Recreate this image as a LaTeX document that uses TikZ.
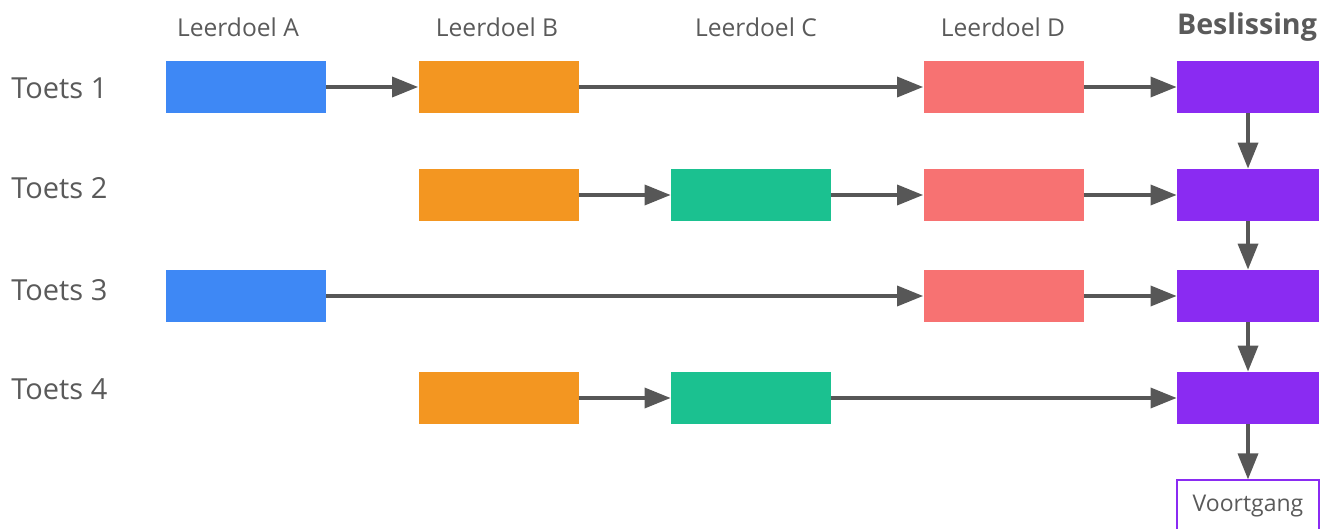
\documentclass[tikz,border=0pt]{standalone}
\usepackage{fontspec}
\setmainfont{Open Sans}
\usetikzlibrary{arrows.meta}
\definecolor{txt}{HTML}{5A5A5A}
\definecolor{arr}{HTML}{575757}
\definecolor{cblue}{HTML}{3E88F5}
\definecolor{corange}{HTML}{F39621}
\definecolor{cgreen}{HTML}{1BC190}
\definecolor{cred}{HTML}{F77272}
\definecolor{cpurple}{HTML}{8A2BF2}
\tikzset{
  box/.style={draw=none, minimum width=80pt, minimum height=26pt, inner sep=0pt},
  dbox/.style={draw=none, fill=cpurple, minimum width=71pt, minimum height=26pt, inner sep=0pt},
  head/.style={text=txt, font=\fontsize{12.3}{14}\selectfont},
  rowlab/.style={text=txt, anchor=west, inner sep=0pt, font=\fontsize{14.5}{16}\selectfont},
  conn/.style={draw=arr, line width=1.75pt, -{Triangle[length=13pt,width=10pt]}},
}
\begin{document}
\begin{tikzpicture}[x=0.5pt, y=-0.5pt]
\useasboundingbox (0,0) rectangle (1328,529);
\clip (0,0) rectangle (1328,529);
% headers
\node[head] (hA) at (238,27) {Leerdoel A};
\node[head] (hB) at (497,27) {Leerdoel B};
\node[head] (hC) at (756,27) {Leerdoel C};
\node[head] (hD) at (1003,27) {Leerdoel D};
\node[head, font=\fontsize{14.3}{16}\selectfont\bfseries] (hE) at (1247,27) {Beslissing};
% row labels
\node[rowlab] (t1) at (11,88) {Toets 1};
\node[rowlab] (t2) at (11,188) {Toets 2};
\node[rowlab] (t3) at (11,290) {Toets 3};
\node[rowlab] (t4) at (11,389) {Toets 4};
% row 1
\node[box, fill=cblue] (a1) at (246,87) {};
\node[box, fill=corange] (b1) at (498.5,87) {};
\node[box, fill=cred] (d1) at (1003.5,87) {};
\node[dbox] (e1) at (1248,87) {};
% row 2
\node[box, fill=corange] (b2) at (498.5,195) {};
\node[box, fill=cgreen] (c2) at (751,195) {};
\node[box, fill=cred] (d2) at (1003.5,195) {};
\node[dbox] (e2) at (1248,195) {};
% row 3
\node[box, fill=cblue] (a3) at (246,296) {};
\node[box, fill=cred] (d3) at (1003.5,296) {};
\node[dbox] (e3) at (1248,296) {};
% row 4
\node[box, fill=corange] (b4) at (498.5,398) {};
\node[box, fill=cgreen] (c4) at (751,398) {};
\node[dbox] (e4) at (1248,398) {};
% voortgang
\node[draw=cpurple, line width=0.6pt, fill=white, minimum width=71pt, minimum height=26pt, inner sep=0pt, text=txt, font=\fontsize{11.5}{13}\selectfont] (v) at (1248,506) {Voortgang};
% connectors
\draw[conn] (a1) -- (b1);
\draw[conn] (b1) -- (d1);
\draw[conn] (d1) -- (e1);
\draw[conn] (b2) -- (c2);
\draw[conn] (c2) -- (d2);
\draw[conn] (d2) -- (e2);
\draw[conn] (a3) -- (d3);
\draw[conn] (d3) -- (e3);
\draw[conn] (b4) -- (c4);
\draw[conn] (c4) -- (e4);
\draw[conn] (e1) -- (e2);
\draw[conn] (e2) -- (e3);
\draw[conn] (e3) -- (e4);
\draw[conn] (e4) -- (v);
\end{tikzpicture}
\end{document}
